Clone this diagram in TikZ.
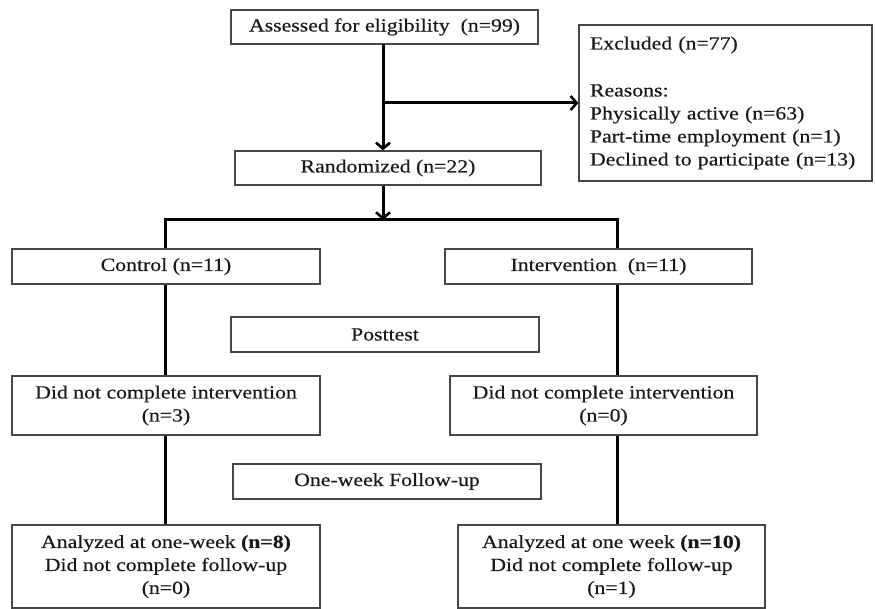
\documentclass[tikz,border=0pt]{standalone}
\usepackage{fontspec}
\setmainfont{Liberation Serif}[FakeStretch=1.17,FakeBold=0.4]
\usetikzlibrary{arrows.meta}
\begin{document}
\begin{tikzpicture}[x=1pt,y=-1pt,
  box/.style={draw=black!72,line width=1.3pt,inner sep=0pt,align=center,
    font=\fontsize{18.6}{23}\selectfont,text=black!90},
  conn/.style={line width=3pt,black},
  arr/.style={conn,-{Straight Barb[length=6pt,width=14pt,line width=2.6pt]}}]
\useasboundingbox (0,0) rectangle (875,609);
\node[box,minimum width=307pt,minimum height=34pt] (assess) at (384.5,27) {Assessed for eligibility\ \ (n=99)};
\node[box,minimum width=293pt,minimum height=156pt,text width=271pt,align=left] (excl) at (725.5,103)
  {Excluded (n=77)\\[24pt]Reasons:\\Physically active (n=63)\\Part-time employment (n=1)\\Declined to participate (n=13)};
\node[box,minimum width=306pt,minimum height=34pt] (rand) at (388,168) {Randomized (n=22)};
\node[box,minimum width=308pt,minimum height=35pt] (ctrl) at (166,266.5) {Control (n=11)};
\node[box,minimum width=307pt,minimum height=35pt] (intv) at (598.5,266.5) {Intervention\ \ (n=11)};
\node[box,minimum width=308pt,minimum height=35pt] (post) at (385,334.5) {Posttest};
\node[box,minimum width=308pt,minimum height=59pt] (dncL) at (166,405.5) {Did not complete intervention\\(n=3)};
\node[box,minimum width=307pt,minimum height=59pt] (dncR) at (603.5,405.5) {Did not complete intervention\\(n=0)};
\node[box,minimum width=308pt,minimum height=35pt] (follow) at (387,481.5) {One-week Follow-up};
\node[box,minimum width=308pt,minimum height=83pt] (anL) at (166,566.5) {Analyzed at one-week \textbf{(n=8)}\\Did not complete follow-up\\(n=0)};
\node[box,minimum width=307pt,minimum height=83pt] (anR) at (611.5,566.5) {Analyzed at one week \textbf{(n=10)}\\Did not complete follow-up\\(n=1)};
\coordinate (top) at (383,44);
\coordinate (jM) at (383,220);
\coordinate (jL) at (165,220);
\coordinate (jR) at (617,220);
\draw[arr] (top) -- (top |- rand.north);
\draw[arr] (top |- excl.west) -- (excl.west);
\draw[arr] (top |- rand.south) -- (jM);
\draw[conn] ([xshift=-1.5pt]jL) -- ([xshift=1.5pt]jR);
\draw[conn] (jL) -- (jL |- ctrl.north);
\draw[conn] (jR) -- (jR |- intv.north);
\draw[conn] (jL |- ctrl.south) -- (jL |- dncL.north);
\draw[conn] (jR |- intv.south) -- (jR |- dncR.north);
\draw[conn] (jL |- dncL.south) -- (jL |- anL.north);
\draw[conn] (jR |- dncR.south) -- (jR |- anR.north);
\end{tikzpicture}
\end{document}
